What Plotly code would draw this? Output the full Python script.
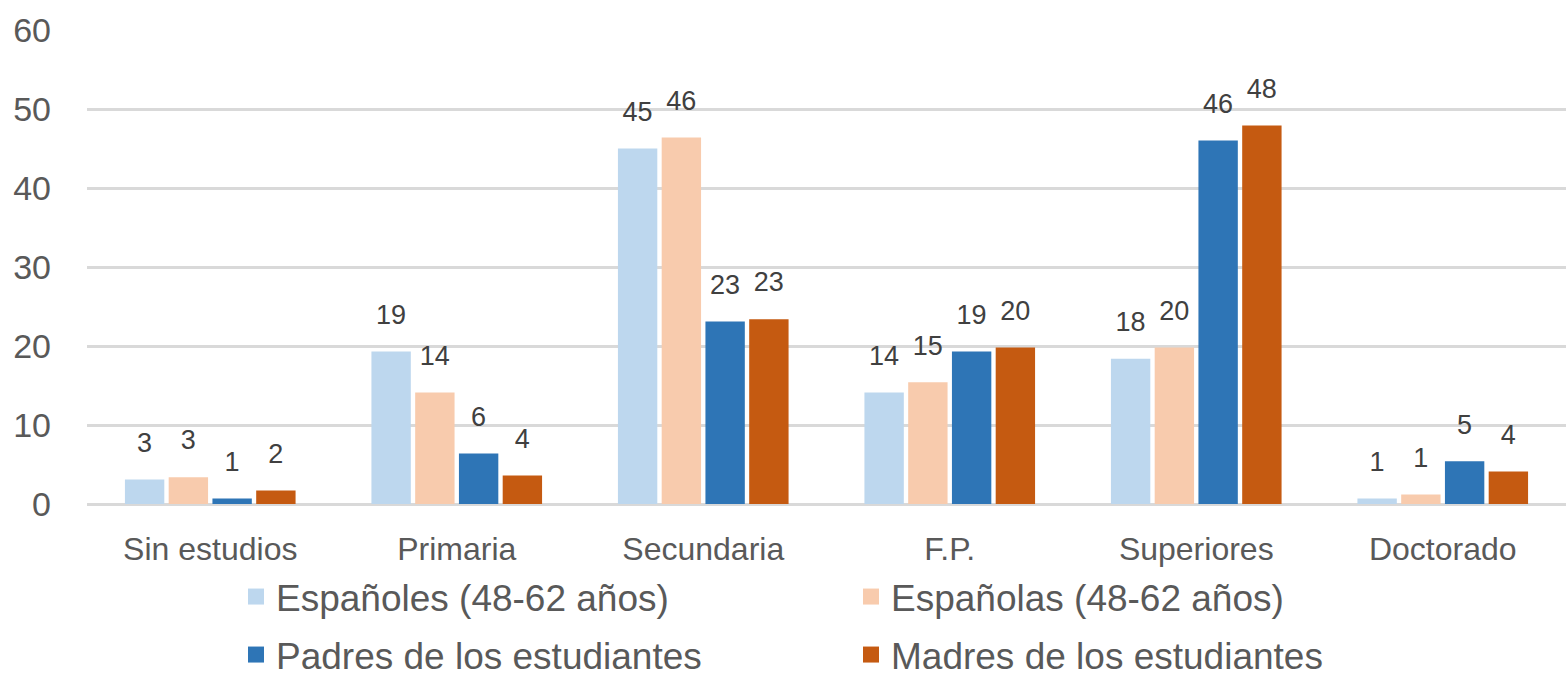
import plotly.graph_objects as go

categories = ["Sin estudios", "Primaria", "Secundaria", "F.P.", "Superiores", "Doctorado"]

espanoles = [3.1, 19.3, 45.0, 14.1, 18.4, 0.7]
espanolas = [3.4, 14.1, 46.4, 15.4, 19.8, 1.2]
padres = [0.7, 6.4, 23.1, 19.3, 46.0, 5.4]
madres = [1.7, 3.6, 23.4, 19.8, 47.9, 4.1]

series_names = [
    "Españoles (48-62 años)",
    "Españolas (48-62 años)",
    "Padres de los estudiantes",
    "Madres de los estudiantes",
]
series_values = [espanoles, espanolas, padres, madres]
colors = ["#BDD7EE", "#F8CBAD", "#2E75B6", "#C55A11"]
legend_rows = ["legend", "legend", "legend2", "legend2"]

FONT = "Liberation Sans, Arial, sans-serif"
GREY = "#595959"

fig = go.Figure()

for i, (name, vals, col) in enumerate(zip(series_names, series_values, colors)):
    fig.add_trace(go.Bar(
        x=categories, y=vals, name=name, offsetgroup=str(i),
        marker=dict(color=col, line=dict(width=0)),
        showlegend=False, hoverinfo="skip",
    ))

# data labels sit a fixed gap above each bar: invisible markers push the text up
for i, (name, vals) in enumerate(zip(series_names, series_values)):
    fig.add_trace(go.Scatter(
        x=categories, y=vals, mode="markers+text", offsetgroup=str(i),
        text=[f"{v:.0f}" for v in vals],
        textposition="top center",
        textfont=dict(family=FONT, size=27, color="#404040"),
        marker=dict(size=32, opacity=0),
        showlegend=False, hoverinfo="skip", cliponaxis=False,
    ))

# legend entries with big square swatches, two rows
for i, (name, col, leg) in enumerate(zip(series_names, colors, legend_rows)):
    fig.add_trace(go.Scatter(
        x=[None], y=[None], mode="markers", name=name, offsetgroup=str(i),
        marker=dict(symbol="square", size=18, color=col),
        legend=leg, hoverinfo="skip",
    ))

legend_common = dict(
    orientation="h",
    xref="container", yref="container",
    x=0.1507, xanchor="left", yanchor="middle",
    font=dict(family=FONT, size=37, color=GREY),
    entrywidth=570, entrywidthmode="pixels",
    itemclick=False, itemdoubleclick=False,
    bgcolor="rgba(0,0,0,0)",
)

fig.update_layout(
    width=1566, height=678,
    paper_bgcolor="white", plot_bgcolor="white",
    margin=dict(l=87, r=0, t=30, b=174),
    barmode="group", bargap=0.29, bargroupgap=0.1,
    scattermode="group", scattergap=0.29,
    font=dict(family=FONT, color=GREY),
    showlegend=True,
    legend=dict(legend_common, y=1 - 597 / 678),
    legend2=dict(legend_common, y=1 - 655 / 678),
    xaxis=dict(
        tickfont=dict(size=32, color=GREY),
        showgrid=False, showline=False, ticks="",
        ticklabelstandoff=23, automargin=False,
    ),
    yaxis=dict(
        range=[0, 60], dtick=10, tick0=0,
        tickfont=dict(size=34, color=GREY),
        showgrid=True, gridcolor="#D9D9D9", gridwidth=2.5,
        zeroline=True, zerolinecolor="#D9D9D9", zerolinewidth=2.5,
        showline=False, ticks="",
        ticklabelstandoff=35, automargin=False,
    ),
)

# drop the page's default 8px body margin so the figure sits at the window corner
fig.write_html(
    "out.html",
    config={"displayModeBar": False},
    post_script="document.body.style.margin='0';",
)
